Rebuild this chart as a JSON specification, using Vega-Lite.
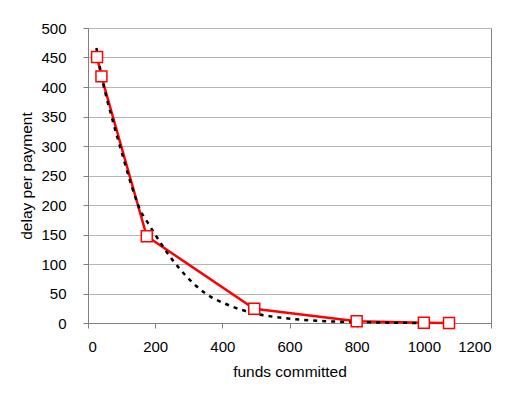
{
  "$schema": "https://vega.github.io/schema/vega-lite/v6.json",
  "width": 403,
  "height": 295,
  "autosize": "none",
  "padding": {"left": 88, "top": 28, "right": 38, "bottom": 82},
  "background": "white",
  "config": {
    "font": "Liberation Sans",
    "view": {"stroke": "#808080", "strokeWidth": 1},
    "axis": {
      "labelFont": "Liberation Sans",
      "titleFont": "Liberation Sans",
      "labelFontSize": 15,
      "titleFontSize": 15.5,
      "titleFontWeight": "normal",
      "labelColor": "black",
      "titleColor": "black",
      "domainColor": "#808080",
      "tickColor": "#808080",
      "tickSize": 5,
      "gridColor": "#b4b4b4",
      "gridWidth": 1
    }
  },
  "datasets": {
    "obs": [
      {"x": 27, "y": 451},
      {"x": 40, "y": 418},
      {"x": 175, "y": 147},
      {"x": 495, "y": 24},
      {"x": 800, "y": 3},
      {"x": 1000, "y": 0.5},
      {"x": 1075, "y": 0}
    ],
    "fit": [
      {"x": 25, "y": 466},
      {"x": 40, "y": 420},
      {"x": 75, "y": 340},
      {"x": 100, "y": 290},
      {"x": 130, "y": 232},
      {"x": 155, "y": 192},
      {"x": 178, "y": 170},
      {"x": 200, "y": 150},
      {"x": 245, "y": 112},
      {"x": 295, "y": 78},
      {"x": 350, "y": 50},
      {"x": 420, "y": 30},
      {"x": 490, "y": 17},
      {"x": 590, "y": 8},
      {"x": 710, "y": 3},
      {"x": 850, "y": 1},
      {"x": 1000, "y": 0}
    ]
  },
  "encoding": {
    "x": {"field": "x", "type": "quantitative", "scale": {"domain": [0, 1200], "nice": false},
          "axis": {"title": "funds committed", "tickCount": 6, "format": "d", "labelOverlap": false, "grid": false, "labelPadding": 11, "titlePadding": 10}},
    "y": {"field": "y", "type": "quantitative", "scale": {"domain": [0, 500], "nice": false},
          "axis": {"title": "delay per payment", "tickCount": 10, "format": "d", "labelOverlap": false, "grid": true, "labelPadding": 17, "titlePadding": 6}}
  },
  "layer": [
    {
      "data": {"name": "obs"},
      "mark": {"type": "line", "color": "#ff0000", "strokeWidth": 2.5}
    },
    {
      "data": {"name": "fit"},
      "mark": {"type": "line", "color": "black", "strokeWidth": 2.5, "strokeDash": [4, 5], "interpolate": "monotone"}
    },
    {
      "data": {"name": "obs"},
      "mark": {"type": "point", "shape": "square", "size": 120, "filled": true, "fill": "white", "stroke": "#ff0000", "strokeWidth": 1.5, "opacity": 1}
    }
  ]
}
